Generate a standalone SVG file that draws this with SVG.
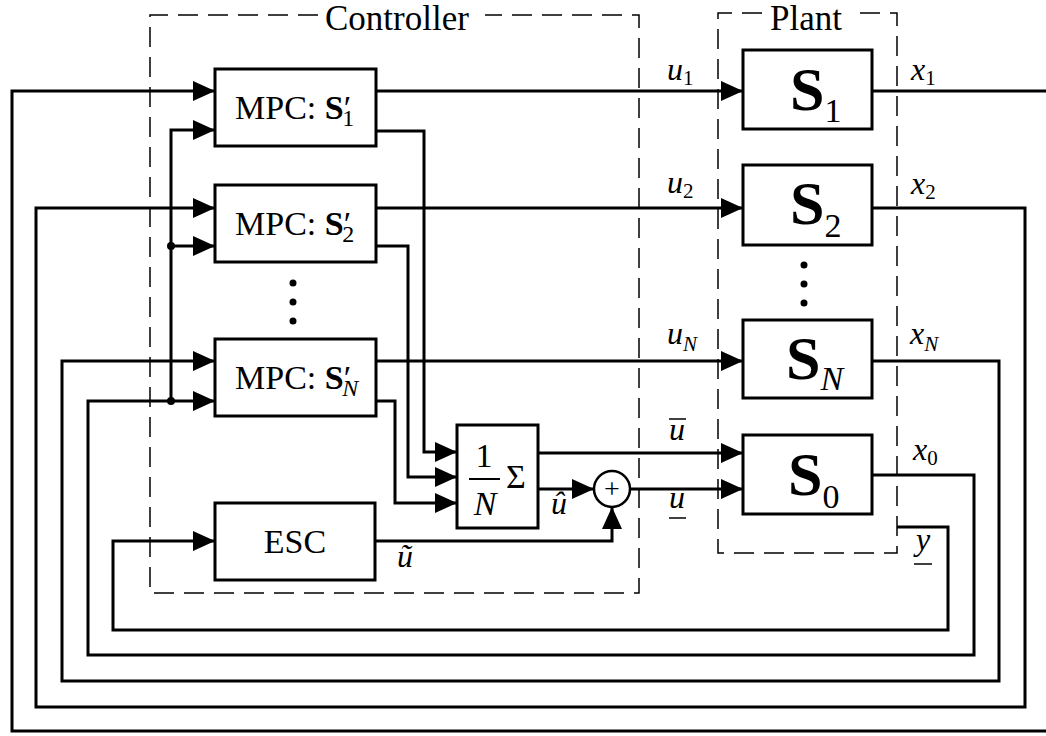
<svg xmlns="http://www.w3.org/2000/svg" width="1046" height="736" viewBox="0 0 1046 736" font-family="'Liberation Serif', 'DejaVu Serif', serif">
<style>
.box{fill:#fff;stroke:#000;stroke-width:3}
.dash{fill:none;stroke:#000;stroke-width:1.5;stroke-dasharray:20 10}
.w{fill:none;stroke:#000;stroke-width:3;stroke-linejoin:miter;stroke-linecap:butt}
.a{marker-end:url(#ah)}
text{font-family:'Liberation Serif','DejaVu Serif',serif;fill:#000}
.t{font-size:34px}
.ttl{font-size:35px}
.lab{font-size:32px;font-style:italic}
.ls{font-size:21px}
.sub{font-size:24px}
.big{font-size:62px;font-weight:bold}
.bsub{font-size:34px}
.it{font-style:italic}
.deco{stroke:#000;stroke-width:1.5}
.dot{fill:#000}
</style>
<defs>
<marker id="ah" markerUnits="userSpaceOnUse" markerWidth="22" markerHeight="20" refX="22" refY="10" orient="auto"><path d="M0,0 L22,10 L0,20 Z" fill="#000"/></marker>
</defs>
<rect width="1046" height="736" fill="#fff"/>

<g id="controller-frame">
<path class="dash" d="M318,15 H150 V593 H639 V15 H485"/>
<text class="ttl" x="325" y="30">Controller</text>
</g>
<g id="plant-frame">
<path class="dash" d="M762,13 H718 V553 H897 V13 H852"/>
<text class="ttl" x="770" y="30">Plant</text>
</g>

<g id="connectors">
<path class="w a" d="M376,91 H743"/>
<path class="w a" d="M376,208 H743"/>
<path class="w a" d="M376,361 H743"/>
<path class="w a" d="M376,131 H424 V452 H457"/>
<path class="w a" d="M376,246 H408 V477 H457"/>
<path class="w a" d="M376,401 H395 V503 H457"/>
<path class="w a" d="M538,453 H743"/>
<path class="w a" d="M538,489 H594"/>
<path class="w a" d="M630,489 H743"/>
<path class="w a" d="M375,541 H612 V507"/>
<path class="w a" d="M171,401 V130 H215"/>
<path class="w a" d="M171,246 H215"/>
<path class="w" d="M872,91 H1046"/>
<path class="w a" d="M1046,731 H12 V91 H215"/>
<path class="w a" d="M872,208 H1025 V707 H36 V208 H215"/>
<path class="w a" d="M872,361 H999 V681 H62 V361 H215"/>
<path class="w a" d="M872,475 H974 V655 H88 V401 H215"/>
<path class="w a" d="M897,527 H948 V630 H113 V541 H215"/>
<circle class="dot" cx="171" cy="246" r="4"/>
<circle class="dot" cx="171" cy="401" r="4"/>
</g>

<g id="mpc1">
<rect class="box" x="215" y="69" width="161" height="77"/>
<text class="t" x="235" y="119">MPC: <tspan font-weight="bold">S</tspan><tspan>′</tspan><tspan class="sub" dx="-9" dy="7">1</tspan></text>
</g>
<g id="mpc2">
<rect class="box" x="215" y="185" width="161" height="77"/>
<text class="t" x="235" y="235">MPC: <tspan font-weight="bold">S</tspan><tspan>′</tspan><tspan class="sub" dx="-9" dy="7">2</tspan></text>
</g>
<g id="mpc-dots">
<circle class="dot" cx="293" cy="283" r="3.5"/>
<circle class="dot" cx="293" cy="302" r="3.5"/>
<circle class="dot" cx="293" cy="321" r="3.5"/>
</g>
<g id="mpcN">
<rect class="box" x="215" y="339" width="161" height="77"/>
<text class="t" x="235" y="389">MPC: <tspan font-weight="bold">S</tspan><tspan>′</tspan><tspan class="sub it" dx="-9" dy="7">N</tspan></text>
</g>
<g id="esc">
<rect class="box" x="215" y="503" width="160" height="77"/>
<text class="t" x="295" y="553" text-anchor="middle">ESC</text>
</g>
<g id="average">
<rect class="box" x="457" y="425" width="81" height="103"/>
<text class="t" x="484" y="467" text-anchor="middle">1</text>
<line class="deco" x1="469" y1="479" x2="500" y2="479" style="stroke-width:2"/>
<text class="t it" x="485" y="515" text-anchor="middle">N</text>
<text class="t" x="516" y="488" text-anchor="middle">Σ</text>
</g>
<g id="summer">
<circle cx="612" cy="489" r="18" fill="#fff" stroke="#000" stroke-width="2.5"/>
<text x="612" y="498" font-size="28" text-anchor="middle">+</text>
</g>

<g id="S1">
<rect class="box" x="743" y="50" width="129" height="79"/>
<text class="big" x="790" y="110">S<tspan class="bsub" font-weight="normal" dy="12">1</tspan></text>
</g>
<g id="S2">
<rect class="box" x="743" y="165" width="129" height="80"/>
<text class="big" x="790" y="224">S<tspan class="bsub" font-weight="normal" dy="13">2</tspan></text>
</g>
<g id="plant-dots">
<circle class="dot" cx="804" cy="265" r="3.5"/>
<circle class="dot" cx="804" cy="284" r="3.5"/>
<circle class="dot" cx="804" cy="303" r="3.5"/>
</g>
<g id="SN">
<rect class="box" x="743" y="320" width="129" height="78"/>
<text class="big" x="786" y="379">S<tspan class="bsub it" font-weight="normal" dy="11">N</tspan></text>
</g>
<g id="S0">
<rect class="box" x="743" y="435" width="129" height="79"/>
<text class="big" x="788" y="495">S<tspan class="bsub" font-weight="normal" dy="13">0</tspan></text>
</g>

<g id="labels">
<text class="lab" x="667" y="80">u<tspan class="ls" font-style="normal" dy="5">1</tspan></text>
<text class="lab" x="911" y="80">x<tspan class="ls" font-style="normal" dy="5">1</tspan></text>
<text class="lab" x="667" y="193">u<tspan class="ls" font-style="normal" dy="5">2</tspan></text>
<text class="lab" x="911" y="194">x<tspan class="ls" font-style="normal" dy="5">2</tspan></text>
<text class="lab" x="667" y="344">u<tspan class="ls" dy="7">N</tspan></text>
<text class="lab" x="910" y="344">x<tspan class="ls" dy="7">N</tspan></text>
<text class="lab" x="669" y="440">u</text><line class="deco" x1="669" y1="419" x2="686" y2="419"/>
<text class="lab" x="669" y="508">u</text><line class="deco" x1="669" y1="518" x2="686" y2="518"/>
<text class="lab" x="913" y="460">x<tspan class="ls" font-style="normal" dy="5">0</tspan></text>
<text class="lab" x="916" y="550">y</text><line class="deco" x1="914" y1="564" x2="932" y2="564"/>
<text class="lab" x="551" y="514">û</text>
<text class="lab" x="397" y="567">ũ</text>
</g>
</svg>
